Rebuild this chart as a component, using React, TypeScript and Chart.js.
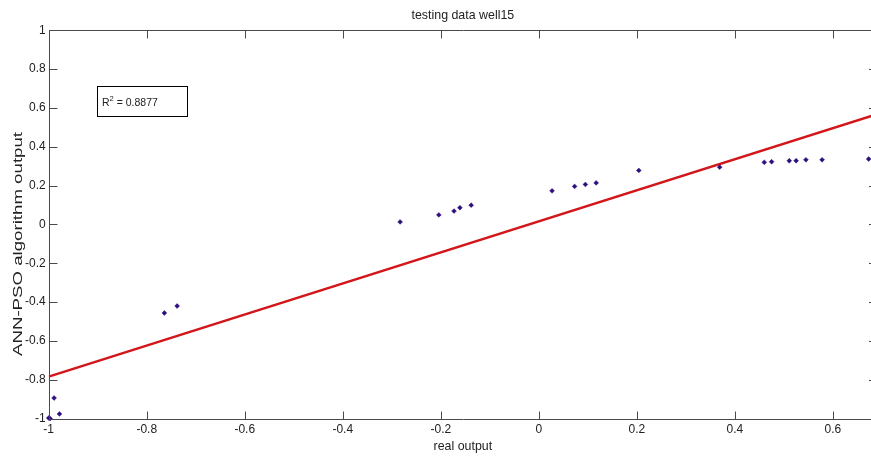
import React, { useEffect, useRef } from "react";
import { Chart, registerables } from "chart.js";

Chart.register(...registerables);

// ---- text ----
const chartTitle = "testing data well15";
const xAxisLabel = "real output";
const yAxisLabel = "ANN-PSO algorithm output";
const r2Symbol = "R";
const r2Exponent = "2";
const r2Text = " = 0.8877";

// ---- data ----
const realOutput = [
  -1.0, -0.997, -0.989, -0.978, -0.764, -0.738, -0.283, -0.204, -0.173, -0.161,
  -0.138, 0.027, 0.073, 0.095, 0.117, 0.204, 0.369, 0.46, 0.475, 0.511, 0.525,
  0.545, 0.578, 0.673,
];
const annPsoOutput = [
  -0.997, -1.0, -0.894, -0.976, -0.456, -0.42, 0.013, 0.049, 0.069, 0.086,
  0.099, 0.173, 0.196, 0.206, 0.214, 0.278, 0.295, 0.32, 0.323, 0.328, 0.328,
  0.333, 0.333, 0.337,
];
const fitX = [-1, 0.69];
const fitY = [-0.784, 0.568];

// ---- axes ----
const xRange = [-1, 0.69];
const yRange = [-1, 1];
const xTicks = [-1, -0.8, -0.6, -0.4, -0.2, 0, 0.2, 0.4, 0.6];
const yTicks = [-1, -0.8, -0.6, -0.4, -0.2, 0, 0.2, 0.4, 0.6, 0.8, 1];
const r2BoxAnchor = [-0.9, 0.711]; // top-left corner of the R^2 box, data units

const FONT = "'Liberation Sans', Arial, Helvetica, sans-serif";
const AXIS_COLOR = "#4a4a4a";
const TEXT_COLOR = "#222222";
const VIEW_WIDTH = 871;

const fmt = (v: number) => String(Math.round(v * 10) / 10);

const matlabAxesPlugin = {
  id: "matlabAxes",
  afterDatasetsDraw(chart: any) {
    const { ctx, chartArea, scales } = chart;
    const { left, right, top, bottom } = chartArea;
    const tl = 8;
    const L = Math.round(left) + 0.5;
    const T = Math.round(top) + 0.5;
    const B = Math.round(bottom) + 0.5;
    const R = Math.round(right) + 0.5;
    ctx.save();
    ctx.strokeStyle = AXIS_COLOR;
    ctx.lineWidth = 1;
    ctx.beginPath();
    ctx.moveTo(R, T);
    ctx.lineTo(L, T);
    ctx.lineTo(L, B);
    ctx.lineTo(R, B);
    for (const v of xTicks) {
      const px = Math.round(scales.x.getPixelForValue(v)) + 0.5;
      ctx.moveTo(px, B);
      ctx.lineTo(px, B - tl);
      ctx.moveTo(px, T);
      ctx.lineTo(px, T + tl);
    }
    for (const v of yTicks) {
      const py = Math.round(scales.y.getPixelForValue(v)) + 0.5;
      ctx.moveTo(L, py);
      ctx.lineTo(L + tl, py);
    }
    ctx.stroke();
    // inward ticks of the (cropped) right axis: only their tips show in the view
    ctx.fillStyle = AXIS_COLOR;
    const tipStart = Math.max(Math.round(right) - tl, VIEW_WIDTH - 2);
    for (const v of yTicks) {
      const py = Math.round(scales.y.getPixelForValue(v));
      if (tipStart < VIEW_WIDTH) ctx.fillRect(tipStart, py, VIEW_WIDTH - tipStart, 1);
    }

    // R^2 text box
    const bx = Math.round(scales.x.getPixelForValue(r2BoxAnchor[0])) - 0.5;
    const by = Math.round(scales.y.getPixelForValue(r2BoxAnchor[1])) + 0.5;
    ctx.strokeStyle = "#000";
    ctx.strokeRect(bx, by, 90, 30);
    ctx.fillStyle = TEXT_COLOR;
    ctx.textBaseline = "alphabetic";
    ctx.textAlign = "left";
    ctx.font = `10.5px ${FONT}`;
    let tx = bx + 4.5;
    const base = by + 19;
    ctx.fillText(r2Symbol, tx, base);
    tx += ctx.measureText(r2Symbol).width;
    ctx.font = `7.5px ${FONT}`;
    ctx.fillText(r2Exponent, tx, base - 5);
    tx += ctx.measureText(r2Exponent).width;
    ctx.font = `10.5px ${FONT}`;
    ctx.fillText(r2Text, tx, base);

    // y axis label (rotated, stretched along its length like the source image)
    ctx.font = `13.5px ${FONT}`;
    ctx.textAlign = "center";
    ctx.textBaseline = "alphabetic";
    const w = ctx.measureText(yAxisLabel).width;
    ctx.translate(21.5, 244);
    ctx.rotate(-Math.PI / 2);
    ctx.scale(224 / w, 1);
    ctx.fillText(yAxisLabel, 0, 0);
    ctx.restore();
  },
};

export default function App() {
  const ref = useRef<HTMLCanvasElement | null>(null);

  useEffect(() => {
    if (!ref.current) return;
    const chart = new Chart(ref.current, {
      type: "scatter",
      data: {
        datasets: [
          {
            type: "scatter",
            data: realOutput.map((x, i) => ({ x, y: annPsoOutput[i] })),
            pointStyle: "rectRot",
            pointRadius: 2.4,
            backgroundColor: "#2d0f7c",
            borderColor: "#2d0f7c",
            borderWidth: 0.5,
            clip: false as any,
            order: 0,
          },
          {
            type: "line",
            data: fitX.map((x, i) => ({ x, y: fitY[i] })),
            borderColor: "#d3161a",
            borderWidth: 2.4,
            pointRadius: 0,
            fill: false,
            order: 1,
          } as any,
        ],
      },
      options: {
        responsive: false,
        animation: false,
        devicePixelRatio: 1,
        layout: { padding: { left: 0, right: 45, top: 0, bottom: 0 } },
        plugins: {
          legend: { display: false },
          tooltip: { enabled: false },
          title: {
            display: true,
            fullSize: false,
            text: chartTitle,
            color: TEXT_COLOR,
            font: { family: FONT, size: 12.4, weight: "normal" },
            padding: { top: 8, bottom: 7.4 },
          },
        },
        scales: {
          x: {
            type: "linear",
            min: xRange[0],
            max: xRange[1],
            afterBuildTicks: (s: any) => {
              s.ticks = xTicks.map((value) => ({ value }));
            },
            afterFit: (s: any) => {
              s.height = 40.4;
            },
            grid: { display: false, drawTicks: false },
            border: { display: false },
            ticks: {
              color: TEXT_COLOR,
              font: { family: FONT, size: 12 },
              padding: 4,
              maxRotation: 0,
              autoSkip: false,
              callback: (v: any) => fmt(Number(v)),
            },
            title: {
              display: true,
              text: xAxisLabel,
              color: TEXT_COLOR,
              font: { family: FONT, size: 12.4 },
              padding: { top: 0, bottom: 5.2 },
            },
          },
          y: {
            type: "linear",
            min: yRange[0],
            max: yRange[1],
            afterBuildTicks: (s: any) => {
              s.ticks = yTicks.map((value) => ({ value }));
            },
            afterFit: (s: any) => {
              s.width = 48.7;
            },
            grid: { display: false, drawTicks: false },
            border: { display: false },
            ticks: {
              color: TEXT_COLOR,
              font: { family: FONT, size: 12 },
              padding: 3,
              autoSkip: false,
              callback: (v: any) => fmt(Number(v)),
            },
            title: { display: false },
          },
        },
      },
      plugins: [matlabAxesPlugin],
    });
    return () => chart.destroy();
  }, []);

  return (
    <div
      style={{
        position: "fixed",
        left: 0,
        top: 0,
        width: VIEW_WIDTH,
        height: 459,
        overflow: "hidden",
        background: "#ffffff",
      }}
    >
      <canvas ref={ref} width={922} height={459} style={{ display: "block" }} />
    </div>
  );
}
